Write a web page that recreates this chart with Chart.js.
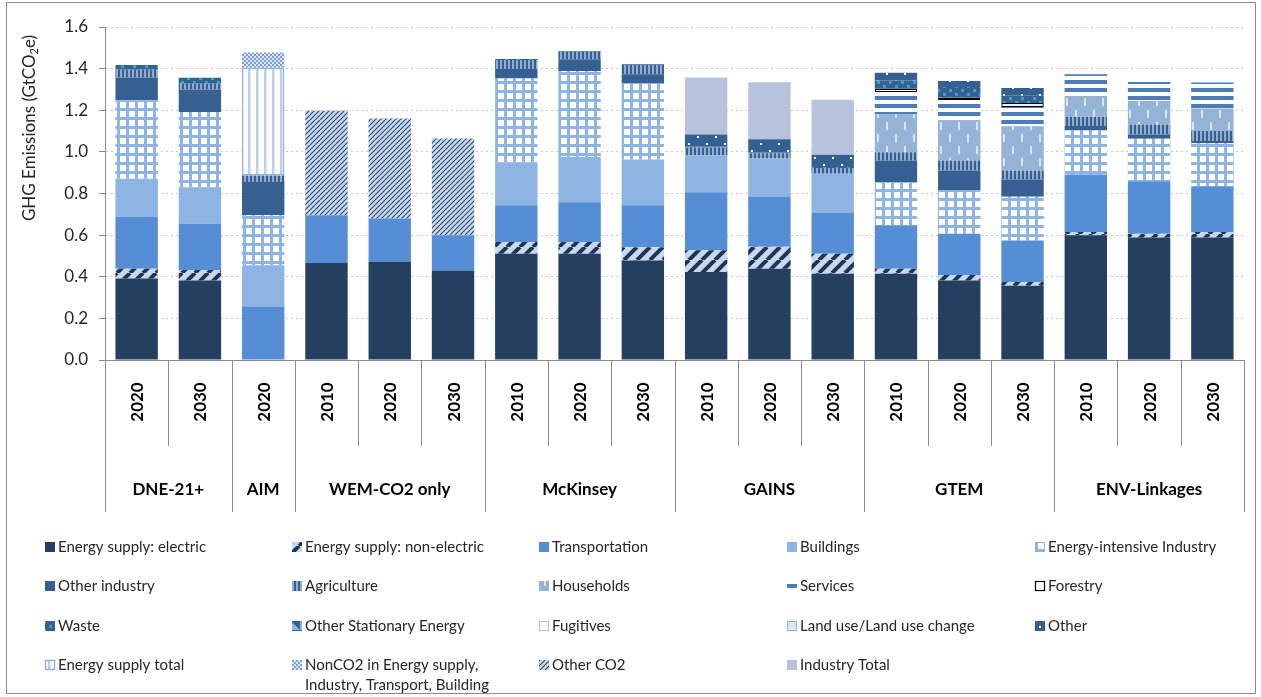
<!DOCTYPE html>
<html>
<head>
<meta charset="utf-8">
<title>GHG Emissions by model</title>
<script src="https://cdn.jsdelivr.net/npm/chart.js"></script>
<style>
  html, body { margin: 0; padding: 0; background: #fff; }
  #wrap { position: relative; width: 1261px; height: 697px; }
</style>
</head>
<body>
<div id="wrap"><canvas id="chart1"></canvas></div>
<script>
// categories
var years = ['2020', '2030', '2020', '2010', '2020', '2030', '2010', '2020', '2030',
             '2010', '2020', '2030', '2010', '2020', '2030', '2010', '2020', '2030'];
var models = ['DNE-21+', 'AIM', 'WEM-CO2 only', 'McKinsey', 'GAINS', 'GTEM', 'ENV-Linkages'];
var modelSizes = [2, 1, 3, 3, 3, 3, 3];
var yTicks = [0, 0.2, 0.4, 0.6, 0.8, 1.0, 1.2, 1.4, 1.6];

// series values (GtCO2e), one value per bar, bottom of the stack first
var electric       = [0.392, 0.382, null, 0.466, 0.471, 0.430, 0.511, 0.511, 0.478, 0.423, 0.439, 0.414, 0.414, 0.382, 0.357, 0.599, 0.589, 0.589];
var nonElectric    = [0.047, 0.051, null, null, null, null, 0.056, 0.056, 0.064, 0.104, 0.105, 0.096, 0.024, 0.027, 0.018, 0.016, 0.018, 0.026];
var transportation = [0.249, 0.222, 0.257, 0.229, 0.209, 0.169, 0.177, 0.191, 0.201, 0.279, 0.241, 0.199, 0.209, 0.198, 0.199, 0.276, 0.252, 0.220];
var buildings      = [0.183, 0.175, 0.198, null, null, null, 0.204, 0.217, 0.220, 0.177, 0.183, 0.186, null, null, null, null, null, null];
var energyIntInd   = [0.377, 0.361, 0.241, null, null, null, 0.405, 0.414, 0.365, null, null, null, 0.207, 0.207, 0.210, 0.212, 0.204, 0.206];
var otherIndustry  = [0.109, 0.109, 0.159, null, null, null, 0.045, 0.056, 0.045, null, null, null, 0.104, 0.096, 0.083, 0.021, 0.021, 0.011];
var agriculture    = [0.037, 0.027, 0.032, null, null, null, 0.043, 0.036, 0.044, 0.038, 0.025, 0.028, 0.040, 0.048, 0.043, 0.045, 0.048, 0.048];
var households     = [null, null, null, null, null, null, null, null, null, null, null, null, 0.182, 0.193, 0.213, 0.100, 0.112, 0.108];
var services       = [null, null, null, null, null, null, null, null, null, null, null, null, 0.107, 0.098, 0.093, 0.104, 0.092, 0.125];
var forestry       = [null, null, null, null, null, null, null, null, null, null, null, null, 0.016, 0.012, 0.019, null, null, null];
var waste          = [0.023, 0.029, null, null, null, null, 0.005, 0.004, 0.004, 0.004, 0.004, 0.004, 0.040, 0.051, 0.035, null, null, null];
var otherStatEn    = [null, null, null, null, null, null, null, null, null, null, null, null, null, null, null, null, null, null];
var fugitives      = [null, null, null, null, null, null, null, null, null, null, null, null, null, null, null, null, null, null];
var landUse        = [null, null, null, null, null, null, null, null, null, null, null, null, null, null, null, null, null, null];
var other          = [null, null, null, null, null, null, null, null, null, 0.059, 0.064, 0.059, 0.037, 0.029, 0.037, null, null, null];
var energySupTotal = [null, null, 0.519, null, null, null, null, null, null, null, null, null, null, null, null, null, null, null];
var nonCO2         = [null, null, 0.072, null, null, null, null, null, null, null, null, null, null, null, null, null, null, null];
var otherCO2       = [null, null, null, 0.502, 0.480, 0.465, null, null, null, null, null, null, null, null, null, null, null, null];
var industryTotal  = [null, null, null, null, null, null, null, null, null, 0.273, 0.273, 0.265, null, null, null, null, null, null];

var seriesNames = ['Energy supply: electric', 'Energy supply: non-electric', 'Transportation', 'Buildings', 'Energy-intensive Industry',
                   'Other industry', 'Agriculture', 'Households', 'Services', 'Forestry',
                   'Waste', 'Other Stationary Energy', 'Fugitives', 'Land use/Land use change', 'Other',
                   'Energy supply total', 'NonCO2 in Energy supply,\nIndustry, Transport, Building', 'Other CO2', 'Industry Total'];
var seriesValues = [electric, nonElectric, transportation, buildings, energyIntInd,
                    otherIndustry, agriculture, households, services, forestry,
                    waste, otherStatEn, fugitives, landUse, other,
                    energySupTotal, nonCO2, otherCO2, industryTotal];

// fill patterns
function pattern(w, h, draw) {
    var c = document.createElement('canvas');
    c.width = w; c.height = h;
    var g = c.getContext('2d');
    draw(g, w, h);
    return g.createPattern(c, 'repeat');
}
function slashes(g, w, h, color, lw) {
    g.strokeStyle = color; g.lineWidth = lw;
    [-w, 0, w].forEach(function(o) {
        g.beginPath(); g.moveTo(o, h); g.lineTo(o + w, 0); g.stroke();
    });
}

var pNonElec = pattern(13, 13, function(g, w, h) {
    g.fillStyle = '#c6d9f1'; g.fillRect(0, 0, w, h);
    slashes(g, w, h, '#1f3552', 4);
});
var pOtherCO2 = pattern(5, 5, function(g, w, h) {
    g.fillStyle = '#c6d9f1'; g.fillRect(0, 0, w, h);
    slashes(g, w, h, '#2b4466', 1.1);
});
var pGrid = pattern(9, 9, function(g) {
    g.fillStyle = '#ffffff'; g.fillRect(0, 0, 9, 9);
    g.fillStyle = '#8db4e2'; g.fillRect(0, 0, 9, 3); g.fillRect(0, 0, 3, 9);
});
var pAgri = pattern(4, 4, function(g) {
    g.fillStyle = '#366092'; g.fillRect(0, 0, 4, 4);
    g.fillStyle = '#93add0'; g.fillRect(0, 0, 2, 4);
});
var pHouse = pattern(18, 24, function(g) {
    g.fillStyle = '#95b3d7'; g.fillRect(0, 0, 18, 24);
    g.fillStyle = '#dce6f2'; g.fillRect(4, 2, 2, 8); g.fillRect(13, 14, 2, 8);
});
var pServices = pattern(8, 8, function(g) {
    g.fillStyle = '#ffffff'; g.fillRect(0, 0, 8, 8);
    g.fillStyle = '#4a7ebb'; g.fillRect(0, 0, 8, 4);
});
var pWaste = pattern(12, 8, function(g) {
    g.fillStyle = '#366092'; g.fillRect(0, 0, 12, 8);
    g.fillStyle = '#34a3bd'; g.fillRect(1, 1, 3, 3); g.fillRect(7, 5, 3, 3);
});
var pOther = pattern(18, 14, function(g) {
    g.fillStyle = '#366092'; g.fillRect(0, 0, 18, 14);
    g.fillStyle = '#ffffff'; g.fillRect(4, 3, 2, 2); g.fillRect(13, 10, 2, 2);
});
var pOtherStat = pattern(10, 10, function(g) {
    g.fillStyle = '#8eb4e3'; g.fillRect(0, 0, 10, 10);
    g.fillStyle = '#366092'; g.beginPath(); g.moveTo(0, 0); g.lineTo(10, 0); g.lineTo(10, 10); g.fill();
});
var pEsTotal = pattern(8, 8, function(g) {
    g.fillStyle = '#ffffff'; g.fillRect(0, 0, 8, 8);
    g.fillStyle = '#bdd0e9'; g.fillRect(0, 0, 2.5, 8);
});
var pNonCO2 = pattern(4, 4, function(g) {
    g.fillStyle = '#dce6f2'; g.fillRect(0, 0, 4, 4);
    g.fillStyle = '#7f9fcc'; g.fillRect(0, 0, 2, 2); g.fillRect(2, 2, 2, 2);
});

var fills = ['#243f60', pNonElec, '#558ed5', '#8eb4e3', pGrid,
             '#366092', pAgri, pHouse, pServices, '#ffffff',
             pWaste, pOtherStat, '#ffffff', '#dce6f2', pOther,
             pEsTotal, pNonCO2, pOtherCO2, '#b7c3dd'];
var borders = {9: ['#000000', 1.2], 12: ['#bfbfbf', 1], 13: ['#8eb4e3', 1], 15: ['#8eb4e3', 1.5]};

var datasets = seriesNames.map(function(name, i) {
    var b = borders[i];
    return {
        label: name,
        data: seriesValues[i],
        backgroundColor: fills[i],
        borderColor: b ? b[0] : 'rgba(0,0,0,0)',
        borderWidth: b ? b[1] : 0,
        borderSkipped: false
    };
});

// x axis as a two level table: years and model names
var xAxisTable = {
    id: 'xAxisTable',
    afterDraw: function(chart) {
        var ctx = chart.ctx, x = chart.scales.x, base = chart.chartArea.bottom;
        var half = (x.getPixelForValue(1) - x.getPixelForValue(0)) / 2;
        var edges = [0];
        modelSizes.forEach(function(n) { edges.push(edges[edges.length - 1] + n); });
        ctx.save();
        ctx.strokeStyle = '#8c8c8c';
        ctx.lineWidth = 1;
        for (var i = 0; i <= years.length; i++) {
            var px = i < years.length ? x.getPixelForValue(i) - half : x.getPixelForValue(i - 1) + half;
            px = Math.round(px) + 0.5;
            ctx.beginPath();
            ctx.moveTo(px, base);
            ctx.lineTo(px, base + (edges.indexOf(i) >= 0 ? 152 : 86));
            ctx.stroke();
        }
        ctx.fillStyle = '#000';
        ctx.font = 'bold 17px Lato';
        ctx.textAlign = 'center';
        ctx.textBaseline = 'middle';
        years.forEach(function(y, i) {
            ctx.save();
            ctx.translate(x.getPixelForValue(i) + 1, base + 42);
            ctx.rotate(-Math.PI / 2);
            ctx.fillText(y, 0, 0);
            ctx.restore();
        });
        models.forEach(function(m, k) {
            var a = x.getPixelForValue(edges[k]) - half;
            var b = x.getPixelForValue(edges[k + 1] - 1) + half;
            ctx.fillText(m, (a + b) / 2, base + 130);
        });
        ctx.restore();
    }
};

// y axis title with subscript
var yTitle = {
    id: 'yTitle',
    afterDraw: function(chart) {
        var ctx = chart.ctx;
        var parts = [['GHG Emissions (GtCO', '17px Lato', 0], ['2', '11px Lato', 4], ['e)', '17px Lato', 0]];
        ctx.save();
        var total = 0;
        parts.forEach(function(p) { ctx.font = p[1]; total += ctx.measureText(p[0]).width; });
        ctx.translate(30, 128);
        ctx.rotate(-Math.PI / 2);
        ctx.fillStyle = '#262626';
        ctx.textBaseline = 'middle';
        ctx.textAlign = 'left';
        var cx = -total / 2;
        parts.forEach(function(p) {
            ctx.font = p[1];
            ctx.fillText(p[0], cx, p[2]);
            cx += ctx.measureText(p[0]).width;
        });
        ctx.restore();
    }
};

// legend laid out in a 5 column grid, plus outer frame
var gridLegend = {
    id: 'gridLegend',
    afterDraw: function(chart) {
        var ctx = chart.ctx;
        var colX = [45, 292, 539, 787, 1035];
        var rowY = [547, 586, 626, 665];
        ctx.save();
        ctx.font = '15px Lato';
        ctx.textBaseline = 'middle';
        ctx.textAlign = 'left';
        chart.data.datasets.forEach(function(ds, i) {
            var cx = colX[i % 5], cy = rowY[Math.floor(i / 5)];
            ctx.fillStyle = ds.backgroundColor;
            ctx.fillRect(cx, cy - 5, 10, 10);
            if (ds.borderWidth) {
                ctx.strokeStyle = ds.borderColor;
                ctx.lineWidth = Math.min(ds.borderWidth, 1.5);
                ctx.strokeRect(cx + 0.5, cy - 4.5, 9, 9);
            }
            ctx.fillStyle = '#262626';
            ds.label.split('\n').forEach(function(line, k) {
                ctx.fillText(line, cx + 13, cy + k * 20);
            });
        });
        ctx.strokeStyle = '#8c8c8c';
        ctx.lineWidth = 1;
        ctx.strokeRect(6.5, 2.5, 1249, 691);
        ctx.restore();
    }
};

var ctx = document.getElementById('chart1').getContext('2d');
var myChart = new Chart(ctx, {
    type: 'bar',
    data: {
        labels: years,
        datasets: datasets
    },
    options: {
        responsive: true,
        maintainAspectRatio: false,
        animation: false,
        categoryPercentage: 1.0,
        barPercentage: 0.67,
        layout: {
            padding: { top: 27, right: 17, bottom: 185, left: 0 }
        },
        plugins: {
            legend: { display: false },
            tooltip: { enabled: false }
        },
        scales: {
            x: {
                stacked: true,
                grid: { display: false },
                border: { display: true, color: '#8c8c8c' },
                ticks: { display: false },
                afterFit: function(s) { s.height = 152; }
            },
            y: {
                stacked: true,
                min: 0,
                max: 1.6,
                afterBuildTicks: function(s) { s.ticks = yTicks.map(function(v) { return { value: v }; }); },
                ticks: {
                    padding: 11,
                    color: '#262626',
                    font: { size: 17, family: 'Lato' },
                    callback: function(v) { return Number(v).toFixed(1); }
                },
                grid: { color: '#c8c8c8', tickColor: '#8c8c8c', tickLength: 6, tickBorderDash: [] },
                border: { display: true, color: '#8c8c8c', dash: [2, 3] },
                afterFit: function(s) { s.width = 105; }
            }
        }
    },
    plugins: [xAxisTable, yTitle, gridLegend]
});
</script>
</body>
</html>
